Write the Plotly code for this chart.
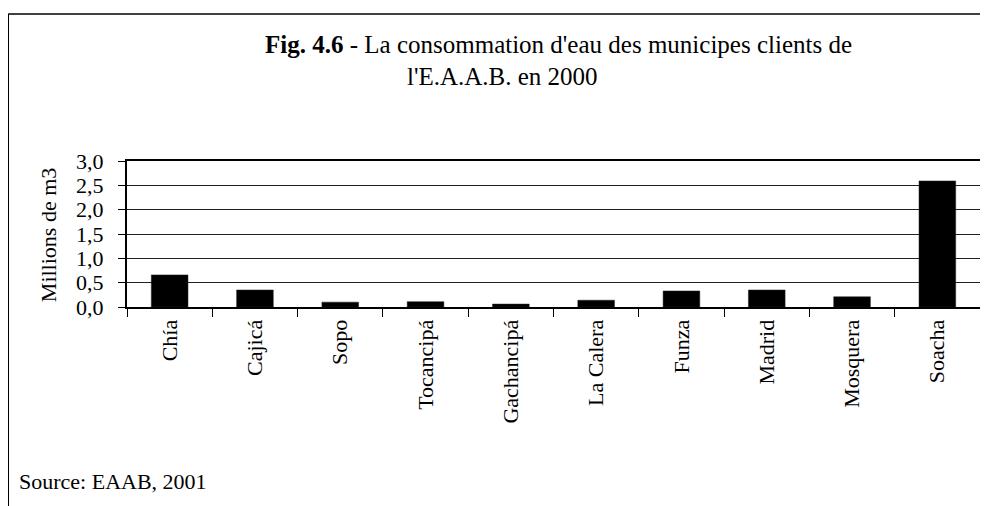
import plotly.graph_objects as go

municipes = ["Chía", "Cajicá", "Sopo", "Tocancipá", "Gachancipá", "La Calera",
             "Funza", "Madrid", "Mosquera", "Soacha"]
consommation = [0.66, 0.35, 0.10, 0.11, 0.06, 0.14, 0.33, 0.35, 0.21, 2.59]
y_ticks = [0, 0.5, 1.0, 1.5, 2.0, 2.5, 3.0]

FONT = "Liberation Serif"
OFF = 8  # default page body margin
W, H = 988 - OFF, 506 - OFF
# plot area in page pixel coords
L, R, T, B = 127, 982, 161, 307
PW, PH = R - L, B - T

def px(x):
    return (x - L) / PW

def py(y):
    return (B - y) / PH

fig = go.Figure(go.Bar(
    x=municipes, y=consommation,
    marker=dict(color="black", line=dict(color="#222222", width=0.5)),
    width=0.43,
))

fig.update_layout(
    width=W, height=H,
    margin=dict(l=L - OFF, r=W - (R - OFF), t=T - OFF, b=H - (B - OFF), pad=0),
    paper_bgcolor="white", plot_bgcolor="white",
    separators=", ",
    showlegend=False,
    font=dict(family=FONT, color="black", size=22),
)

fig.update_yaxes(
    range=[0, 3], tickvals=y_ticks, tickformat=".1f",
    showgrid=True, gridcolor="#222222", gridwidth=1,
    showline=True, linecolor="black", linewidth=2, mirror=True,
    ticks="outside", ticklen=7, tickcolor="black", tickwidth=1,
    tickfont=dict(family=FONT, size=22, color="black"),
    ticklabelstandoff=10, zeroline=False,
)
fig.update_xaxes(
    tickson="boundaries", ticks="outside", ticklen=8, tickcolor="black", tickwidth=1,
    tickangle=-90, tickfont=dict(family=FONT, size=22, color="black"),
    showline=True, linecolor="black", linewidth=2, mirror=True,
    showgrid=False, ticklabelstandoff=2,
)

shapes = [
    dict(type="line", xref="paper", yref="paper",
         x0=px(8), x1=px(8), y0=py(14), y1=py(530),
         line=dict(color="black", width=1.5)),
    dict(type="line", xref="paper", yref="paper",
         x0=px(8), x1=px(1010), y0=py(14), y1=py(14),
         line=dict(color="black", width=1.5)),
]
fig.update_layout(shapes=shapes)

annotations = [
    dict(text="<b>Fig. 4.6</b> - La consommation d'eau des municipes clients de",
         x=px(560), y=py(45), xref="paper", yref="paper",
         xanchor="center", yanchor="middle", showarrow=False,
         font=dict(family=FONT, size=25, color="black")),
    dict(text="l'E.A.A.B. en 2000",
         x=px(503), y=py(77), xref="paper", yref="paper",
         xanchor="center", yanchor="middle", showarrow=False,
         font=dict(family=FONT, size=25, color="black")),
    dict(text="Millions de m3", textangle=-90,
         x=px(48), y=py(235), xref="paper", yref="paper",
         xanchor="center", yanchor="middle", showarrow=False,
         font=dict(family=FONT, size=22, color="black")),
    dict(text="Source: EAAB, 2001",
         x=px(17), y=py(481), xref="paper", yref="paper",
         xanchor="left", yanchor="middle", showarrow=False,
         font=dict(family=FONT, size=22, color="black")),
]
fig.update_layout(annotations=annotations)

fig.write_html("out.html")
